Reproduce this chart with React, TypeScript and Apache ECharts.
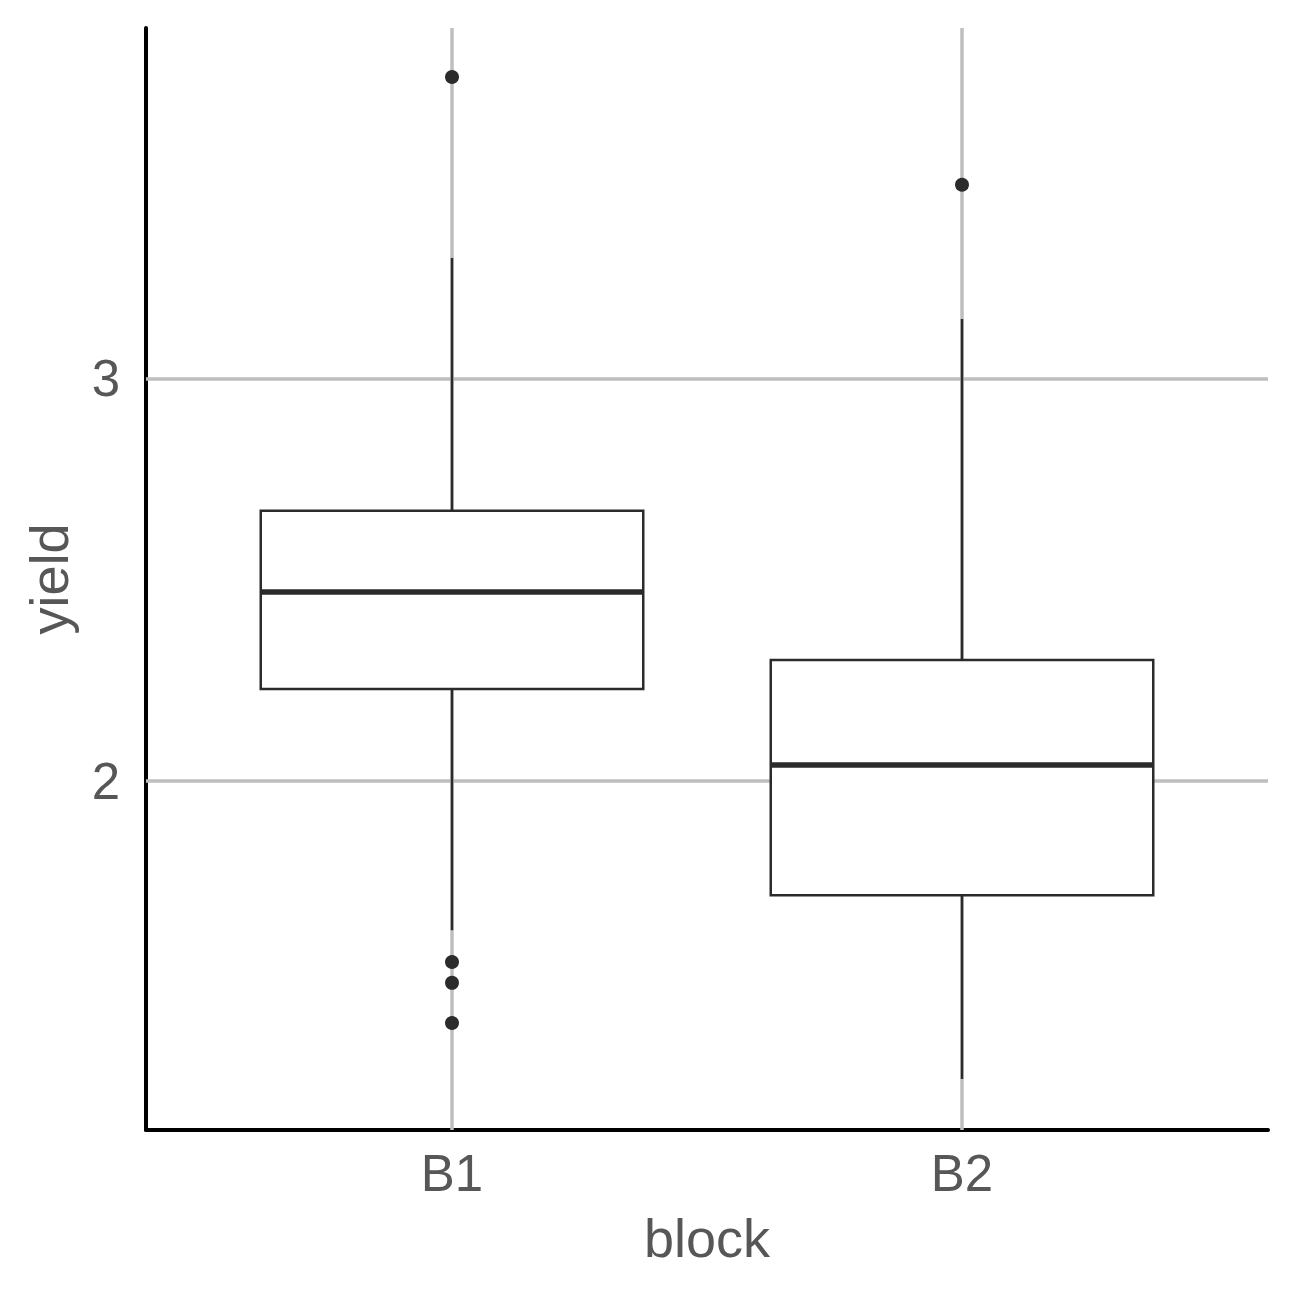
import React, { useEffect, useRef } from "react";
import * as echarts from "echarts";

const categories = ["B1", "B2"];
// [low whisker, Q1, median, Q3, high whisker]
const boxStats = [
  [1.629, 2.229, 2.47, 2.672, 3.301],
  [1.259, 1.716, 2.04, 2.301, 3.149],
];
const outliers = [
  [1, 3.751],
  [1, 1.55],
  [1, 1.498],
  [1, 1.398],
  [2, 3.483],
];
const yTicks = [2, 3];
const xTicks = [1, 2];

export default function App() {
  const ref = useRef<HTMLDivElement>(null);
  useEffect(() => {
    if (!ref.current) return;
    const chart = echarts.init(ref.current, null, { renderer: "svg" });
    const dark = "#2b2b2b";
    const textColor = "#575757";
    const font = "Liberation Sans";
    const boxData = boxStats.map((s, i) => [i + 1, ...s]);
    chart.setOption({
      animation: false,
      backgroundColor: "#ffffff",
      grid: { left: 138, right: 20, top: 20, bottom: 158 },
      xAxis: {
        type: "value",
        min: 0.4,
        max: 2.6,
        name: "block",
        nameLocation: "middle",
        nameGap: 81,
        nameTextStyle: { fontSize: 54, color: textColor, fontFamily: font },
        axisLine: { show: true, onZero: false, lineStyle: { color: "#000", width: 4 } },
        axisTick: { show: false },
        splitLine: { show: false },
        axisLabel: {
          customValues: xTicks,
          formatter: (v: number) => categories[Math.round(v) - 1] ?? "",
          fontSize: 51,
          color: textColor,
          fontFamily: font,
          margin: 18,
        },
      },
      yAxis: {
        type: "value",
        min: 1.132,
        max: 3.873,
        name: "yield",
        nameLocation: "middle",
        nameRotate: 90,
        nameGap: 70,
        nameTextStyle: { fontSize: 54, color: textColor, fontFamily: font },
        axisLine: { show: true, onZero: false, lineStyle: { color: "#000", width: 4 } },
        axisTick: { show: false },
        splitLine: { show: false },
        axisLabel: {
          customValues: yTicks,
          formatter: (v: number) => String(v),
          fontSize: 51,
          color: textColor,
          fontFamily: font,
          margin: 26,
        },
      },
      series: [
        {
          type: "scatter",
          data: [],
          z: 1,
          silent: true,
          markLine: {
            z: 1,
            silent: true,
            symbol: "none",
            label: { show: false },
            lineStyle: { color: "#bebebe", width: 3.5, type: "solid" },
            data: [
              ...yTicks.map((v) => ({ yAxis: v })),
              ...xTicks.map((v) => ({ xAxis: v })),
            ],
          },
        },
        {
          type: "custom",
          z: 3,
          data: boxData,
          encode: { x: 0, y: [1, 2, 3, 4, 5] },
          renderItem: (params: any, api: any) => {
            const x = api.value(0);
            const low = api.coord([x, api.value(1)]);
            const q1 = api.coord([x, api.value(2)]);
            const med = api.coord([x, api.value(3)]);
            const q3 = api.coord([x, api.value(4)]);
            const high = api.coord([x, api.value(5)]);
            const hw = api.size([0.75, 0])[0] / 2;
            const cx = q1[0];
            const lineStyle = { stroke: dark, lineWidth: 2.5 };
            return {
              type: "group",
              children: [
                { type: "line", shape: { x1: cx, y1: high[1], x2: cx, y2: q3[1] }, style: lineStyle },
                { type: "line", shape: { x1: cx, y1: q1[1], x2: cx, y2: low[1] }, style: lineStyle },
                {
                  type: "rect",
                  shape: { x: cx - hw, y: q3[1], width: hw * 2, height: q1[1] - q3[1] },
                  style: { fill: "#ffffff", stroke: dark, lineWidth: 2.5 },
                },
                { type: "line", shape: { x1: cx - hw, y1: med[1], x2: cx + hw, y2: med[1] }, style: { stroke: dark, lineWidth: 5.5 } },
              ],
            };
          },
        },
        {
          type: "scatter",
          z: 4,
          data: outliers,
          symbol: "circle",
          symbolSize: 14,
          itemStyle: { color: dark, opacity: 1 },
        },
      ],
    });
    return () => chart.dispose();
  }, []);
  return <div ref={ref} style={{ width: 1280, height: 1280 }} />;
}
